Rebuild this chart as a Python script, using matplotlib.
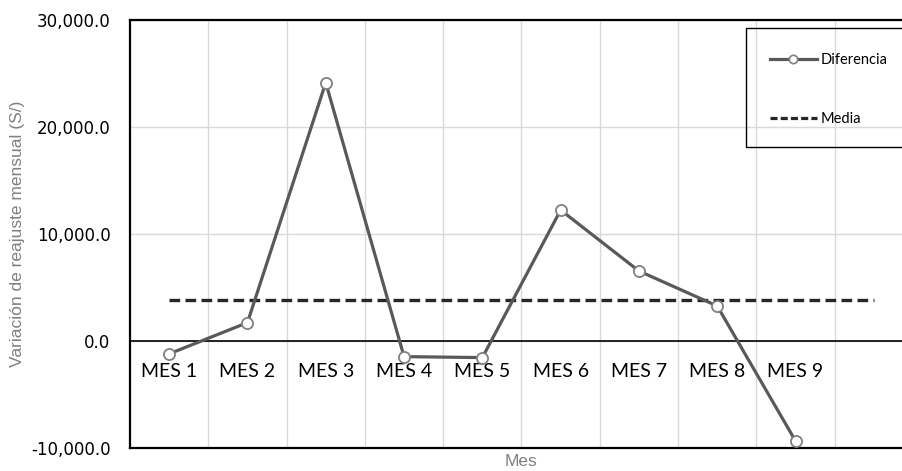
import matplotlib.pyplot as plt
from matplotlib.patches import Rectangle
from matplotlib.lines import Line2D
import numpy as np

# datos mensuales
meses = ['MES 1', 'MES 2', 'MES 3', 'MES 4', 'MES 5', 'MES 6', 'MES 7', 'MES 8', 'MES 9']
diferencia = [-1200, 1720, 24150, -1460, -1550, 12240, 6540, 3270, -9350]
media_x = np.arange(1, 11)
media = np.full(len(media_x), np.mean(diferencia))
yticks = [-10000, 0, 10000, 20000, 30000]

fig = plt.figure(figsize=(9.03, 4.71), dpi=100)
W, H = 903, 471
ax = fig.add_axes([130 / W, 1 - 448 / H, 783 / W, 428 / H])

x = np.arange(1, len(meses) + 1)
ax.plot(x, diferencia, color='#595959', lw=2.3, marker='o', ms=8,
        mfc='white', mec='#808080', mew=1.3, zorder=4)
ax.plot(media_x, media, color='#262626', lw=2.4, dashes=(3.2, 1.6), zorder=3)

ax.set_xlim(0.5, 10.5)
ax.set_ylim(-10000, 30000)
ax.set_xticks(np.arange(1.5, 10.5, 1))
ax.set_xticklabels([])
ax.set_yticks(yticks)
ax.set_yticklabels(['{:,.1f}'.format(v) for v in yticks],
                   fontfamily='DejaVu Sans', fontsize=12)
ax.tick_params(length=0, pad=14)
ax.grid(True, color='#d9d9d9', lw=1)
ax.set_axisbelow(True)

for s in ['left', 'top', 'bottom']:
    ax.spines[s].set_linewidth(1.6)
    ax.spines[s].set_color('black')
ax.spines['right'].set_visible(False)
ax.axhline(0, color='black', lw=1.2, zorder=2)

# etiquetas de categoria junto al eje cero
for xi, m in zip(x, meses):
    ax.annotate(m, (xi, 0), xytext=(0, -16), textcoords='offset points',
                ha='center', va='top', fontfamily='Lato', fontsize=14)

ax.set_ylabel('Variación de reajuste mensual (S/)', color='#808080',
              fontfamily='Liberation Sans', fontsize=12.5, labelpad=4)
fig.text(521 / W, 1 - 462 / H, 'Mes', color='#808080', ha='center', va='center',
         fontfamily='Liberation Sans', fontsize=12.5)

# leyenda con marco propio
fig.patches.append(Rectangle((746 / W, 1 - 147 / H), 170 / W, 119 / H,
                             transform=fig.transFigure, fill=False,
                             edgecolor='black', lw=1))
handles = [Line2D([], [], color='#595959', lw=2.3, marker='o', ms=6,
                  mfc='white', mec='#808080', mew=1.2),
           Line2D([], [], color='#262626', lw=2.3, dashes=(2.2, 1.0))]
fig.legend(handles, ['Diferencia', 'Media'], loc='upper left',
           bbox_to_anchor=(770 / W, 1 - 53 / H), frameon=False,
           prop={'family': 'Lato', 'size': 10.5}, handlelength=3.2,
           handletextpad=0.3, labelspacing=3.1, borderpad=0, borderaxespad=0)

fig.savefig('out.png', dpi=100)
